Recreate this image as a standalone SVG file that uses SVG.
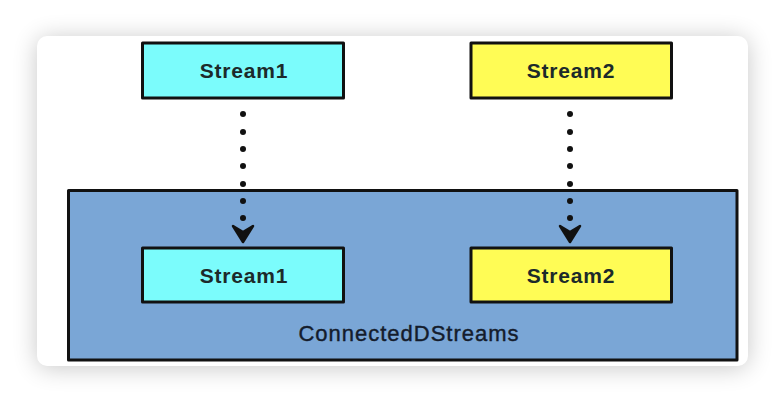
<svg xmlns="http://www.w3.org/2000/svg" width="784" height="402" viewBox="0 0 784 402">
  <defs>
    <filter id="shadow" x="-10%" y="-15%" width="120%" height="130%">
      <feGaussianBlur stdDeviation="12"/>
    </filter>
    <style>
      .box { stroke: #111; stroke-width: 3; stroke-linejoin: round; }
      .cyan { fill: #7BFCFC; }
      .yellow { fill: #FFFC55; }
      .lbl { font-family: "Liberation Sans", Arial, sans-serif; font-weight: bold; font-size: 21px; fill: #1c2a2a; text-anchor: middle; letter-spacing: 0.8px; }
      .dot { fill: #111; }
      .head { fill: #111; stroke: #111; stroke-width: 2.5; stroke-linejoin: round; }
    </style>
  </defs>
  <rect width="784" height="402" fill="#ffffff"/>
  <rect x="37" y="38" width="711" height="330" rx="10" fill="#000" opacity="0.22" filter="url(#shadow)"/>
  <rect x="37" y="36" width="711" height="330" rx="10" fill="#ffffff"/>

  <g id="container">
    <rect class="box" x="68.5" y="190.5" width="668.5" height="169.5" fill="#7AA6D6"/>
    <text x="409" y="341" font-family="Liberation Sans, Arial, sans-serif" font-size="22" fill="#141c2c" stroke="#141c2c" stroke-width="0.4" text-anchor="middle" letter-spacing="1">ConnectedDStreams</text>
  </g>

  <g id="stream1-top">
    <rect class="box cyan" x="142.5" y="43" width="201" height="55"/>
    <text class="lbl" x="244" y="78">Stream1</text>
  </g>
  <g id="stream2-top">
    <rect class="box yellow" x="471" y="43" width="200.5" height="55"/>
    <text class="lbl" x="571" y="78">Stream2</text>
  </g>
  <g id="stream1-bottom">
    <rect class="box cyan" x="142.5" y="248" width="201" height="54"/>
    <text class="lbl" x="244" y="283">Stream1</text>
  </g>
  <g id="stream2-bottom">
    <rect class="box yellow" x="471" y="248" width="200.5" height="54"/>
    <text class="lbl" x="571" y="283">Stream2</text>
  </g>

  <g id="connectors">
    <g class="dot">
      <circle cx="243" cy="114" r="3"/>
      <circle cx="243" cy="132" r="3"/>
      <circle cx="243" cy="149" r="3"/>
      <circle cx="243" cy="166" r="3"/>
      <circle cx="243" cy="184" r="3"/>
      <circle cx="243" cy="201" r="3"/>
      <circle cx="243" cy="218" r="3"/>
      <circle cx="570" cy="114" r="3"/>
      <circle cx="570" cy="132" r="3"/>
      <circle cx="570" cy="149" r="3"/>
      <circle cx="570" cy="166" r="3"/>
      <circle cx="570" cy="184" r="3"/>
      <circle cx="570" cy="201" r="3"/>
      <circle cx="570" cy="218" r="3"/>
    </g>
    <path class="head" d="M233,226 L243,232 L253,226 L243,242 Z"/>
    <path class="head" d="M560,226 L570,232 L580,226 L570,242 Z"/>
  </g>
</svg>
